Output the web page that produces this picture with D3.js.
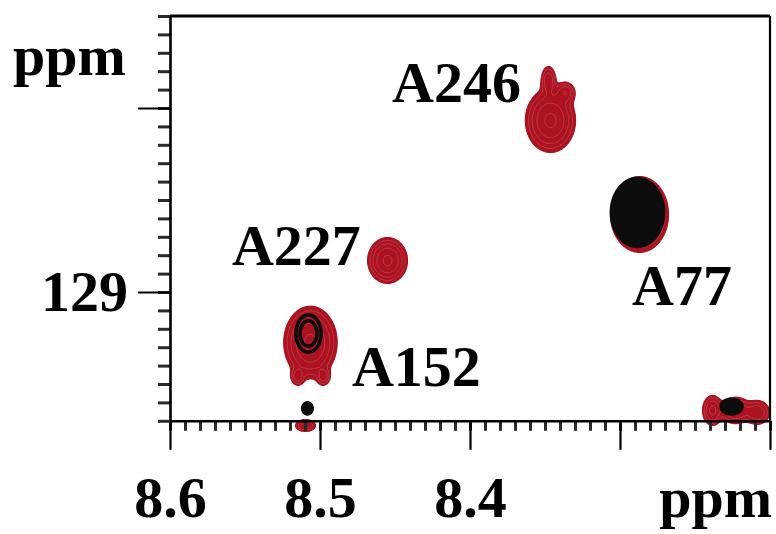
<!DOCTYPE html>
<html>
<head>
<meta charset="utf-8">
<script src="https://cdn.jsdelivr.net/npm/d3@7"></script>
<style>
  html, body { margin: 0; padding: 0; background: #ffffff; overflow: hidden; }
  svg { display: block; }
</style>
</head>
<body>
<svg id="chart" width="776" height="534"></svg>
<script>
// ---------------- data ----------------
const xDomain = [8.6, 8.2];          // 1H ppm (reversed axis)
const yDomain = [127.5, 129.7];      // 15N ppm (downwards)
const xMajorTicks = [8.6, 8.5, 8.4, 8.3, 8.2];
const xTickLabels = ["8.6", "8.5", "8.4", "", ""];
const yMajorTicks = [128, 129];
const yTickLabels = ["", "129"];
const xUnitLabel = "ppm";
const yUnitLabel = "ppm";

// cross peaks of the red spectrum: [1H ppm, 15N ppm, width 1H, width 15N, intensity]
const redPeaks = [
  [8.3467, 128.065, 0.0078, 0.081, 1.00],   // A246 body
  [8.3480, 127.848, 0.0027, 0.044, 0.45],   // A246 upper tip
  [8.3367, 127.913, 0.0035, 0.031, 0.45],   // A246 shoulder
  [8.2873, 128.576, 0.0090, 0.096, 1.00],   // A77
  [8.4553, 128.826, 0.0062, 0.058, 1.00],   // A227
  [8.5067, 129.272, 0.0083, 0.092, 1.00],   // A152
  [8.5153, 129.457, 0.0024, 0.026, 0.40],   // A152 foot
  [8.4980, 129.457, 0.0024, 0.026, 0.40],   // A152 foot
  [8.5100, 129.723, 0.0045, 0.022, 0.30],   // weak peak at the edge
  [8.2387, 129.641, 0.0035, 0.043, 0.60],   // edge peaks, right
  [8.2233, 129.641, 0.0053, 0.038, 0.60],
  [8.2087, 129.652, 0.0045, 0.036, 0.50]
];
// cross peaks of the black spectrum
const blackPeaks = [
  [8.2887, 128.565, 0.0081, 0.086, 1.00],   // A77
  [8.5080, 129.223, 0.0102, 0.123, 0.14],   // A152
  [8.5087, 129.630, 0.0021, 0.020, 0.30],   // weak peak
  [8.2260, 129.620, 0.0047, 0.027, 0.30]    // edge peak
];

// assignment labels (anchor = left end of baseline, in ppm)
const peakNames  = ["A246", "A227", "A152", "A77"];
const peakLabelX = [8.452, 8.5587, 8.4787, 8.292];
const peakLabelY = [127.967, 128.853, 129.511, 129.0707];

// ---------------- drawing ----------------
const FONT = "'Liberation Serif', 'Times New Roman', serif";
const RED = "#ab1320";

const svg = d3.select("#chart");
const x = d3.scaleLinear().domain(xDomain).range([170, 770]);
const y = d3.scaleLinear().domain(yDomain).range([16, 420.8]);

// grid for contour computation
const gx0 = 170, gy0 = 16, gw = 600, gh = 416;
function field(peaks) {
  const v = new Float64Array(gw * gh);
  const xs = d3.range(gw).map(i => x.invert(gx0 + i));
  const ys = d3.range(gh).map(j => y.invert(gy0 + j));
  for (let j = 0; j < gh; j++) {
    for (let i = 0; i < gw; i++) {
      let s = 0;
      for (const p of peaks) {
        const dx = (xs[i] - p[0]) / p[2], dy = (ys[j] - p[1]) / p[3];
        const e = dx * dx + dy * dy;
        if (e < 40) s += p[4] * Math.exp(-0.5 * e);
      }
      v[j * gw + i] = s;
    }
  }
  return v;
}
const levels = d3.range(13).map(k => 0.1 * Math.pow(1.2, k));
const contourGen = d3.contours().size([gw, gh]).thresholds(levels);
const path = d3.geoPath();

svg.append("defs").append("clipPath").attr("id", "plotclip")
  .append("rect").attr("x", x(8.6)).attr("y", y(127.5))
  .attr("width", x(8.2) - x(8.6)).attr("height", gh);

const plot = svg.append("g").attr("clip-path", "url(#plotclip)")
  .append("g").attr("transform", `translate(${gx0},${gy0})`);

// red spectrum
const redC = contourGen(field(redPeaks));
plot.append("path").attr("d", path(redC[0])).attr("fill", RED).attr("stroke", RED).attr("stroke-width", 1.2);
plot.selectAll("path.redin").data(redC.filter((c, k) => k > 0 && k % 3 === 0))
  .join("path").attr("class", "redin")
  .attr("d", path).attr("fill", "none")
  .attr("stroke", "#d9606e").attr("stroke-width", 0.8).attr("stroke-opacity", 0.6);

// black spectrum
const blackC = contourGen(field(blackPeaks));
plot.selectAll("path.blk").data(blackC).join("path").attr("class", "blk")
  .attr("d", path)
  .attr("fill", (c, k) => k >= 5 && k <= 11 ? "#0d0d0d" : "none")
  .attr("stroke", "#0d0d0d").attr("stroke-width", 3.6);

// ---------------- axes ----------------
function styleAxis(g) {
  g.attr("font-family", FONT).attr("font-size", 58).attr("font-weight", "bold");
  g.selectAll("text").attr("fill", "#000");
}
// x minor ticks
svg.append("g").attr("transform", `translate(0,${y(129.7)})`)
  .call(d3.axisBottom(x).tickValues(x.ticks(40)).tickSize(10).tickSizeOuter(0).tickFormat(""))
  .call(g => g.select(".domain").remove())
  .call(g => g.selectAll(".tick line").attr("stroke", "#2a2a2a").attr("stroke-width", 3));
// x major ticks + labels
svg.append("g").attr("transform", `translate(0,${y(129.7)})`)
  .call(d3.axisBottom(x).tickValues(xMajorTicks).tickSize(29).tickSizeOuter(0).tickPadding(26)
        .tickFormat((d, i) => xTickLabels[i]))
  .call(styleAxis)
  .call(g => g.select(".domain").attr("stroke", "#000").attr("stroke-width", 2.6))
  .call(g => g.selectAll(".tick line").attr("stroke", "#000").attr("stroke-width", 2.2));

// y minor ticks
svg.append("g").attr("transform", `translate(${x(8.6)},0)`)
  .call(d3.axisLeft(y).tickValues(y.ticks(22)).tickSize(12).tickSizeOuter(0).tickFormat(""))
  .call(g => g.select(".domain").remove())
  .call(g => g.selectAll(".tick line").attr("stroke", "#2a2a2a").attr("stroke-width", 3));
// y major ticks + labels
svg.append("g").attr("transform", `translate(${x(8.6)},0)`)
  .call(d3.axisLeft(y).tickValues(yMajorTicks).tickSize(32).tickSizeOuter(0).tickPadding(10)
        .tickFormat((d, i) => yTickLabels[i]))
  .call(styleAxis)
  .call(g => g.select(".domain").attr("stroke", "#000").attr("stroke-width", 2.6))
  .call(g => g.selectAll(".tick line").attr("stroke", "#000").attr("stroke-width", 2));

// top and right frame lines
svg.append("line").attr("x1", x(8.6)).attr("x2", x(8.2)).attr("y1", y(127.5)).attr("y2", y(127.5))
  .attr("stroke", "#000").attr("stroke-width", 3);
svg.append("line").attr("x1", x(8.2)).attr("x2", x(8.2)).attr("y1", y(127.5)).attr("y2", y(129.7))
  .attr("stroke", "#000").attr("stroke-width", 2.2);

// unit labels
svg.append("text").attr("x", 13).attr("y", 75).text(yUnitLabel)
  .attr("font-family", FONT).attr("font-size", 58).attr("font-weight", "bold").attr("fill", "#000");
svg.append("text").attr("x", 772).attr("y", 517).attr("text-anchor", "end").text(xUnitLabel)
  .attr("font-family", FONT).attr("font-size", 58).attr("font-weight", "bold").attr("fill", "#000");

// peak assignment labels
svg.append("g").selectAll("text").data(peakNames).join("text")
  .attr("x", (d, i) => x(peakLabelX[i]))
  .attr("y", (d, i) => y(peakLabelY[i]))
  .text(d => d)
  .attr("font-family", FONT).attr("font-size", 58).attr("font-weight", "bold").attr("fill", "#000");
</script>
</body>
</html>
